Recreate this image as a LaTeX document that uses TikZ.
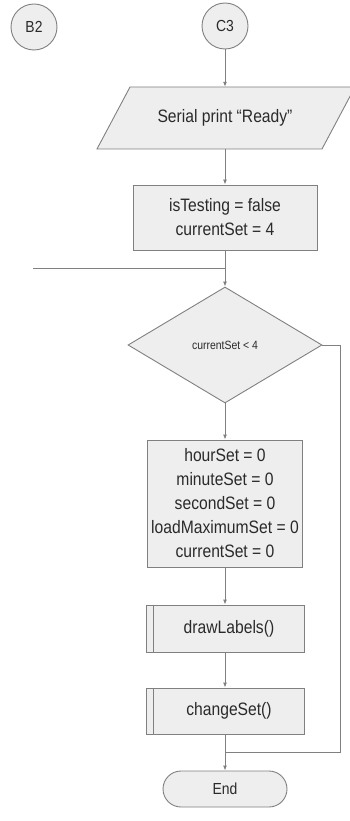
\documentclass[tikz,border=0pt]{standalone}
\usepackage{fontspec}
\setmainfont{Liberation Sans}[FakeStretch=0.87]
\usetikzlibrary{shapes.geometric,shapes.misc,arrows.meta}
\definecolor{strk}{HTML}{808080}
\definecolor{fillc}{HTML}{EEEEEE}
\definecolor{txt}{HTML}{2A2A2A}
\tikzset{
  x=1pt,y=1pt,
  base/.style={draw=strk,line width=0.9pt,fill=fillc,text=txt,inner sep=2pt,align=center},
  procbox/.style={base,rectangle},
  conn/.style={circle,base,minimum size=46pt,font=\fontsize{16}{18}\selectfont},
  dec/.style={diamond,base,inner sep=0pt,minimum width=194pt,minimum height=116pt,font=\fontsize{12}{14}\selectfont},
  term/.style={rounded rectangle,base,minimum width=128pt,minimum height=36pt,font=\fontsize{16}{18}\selectfont},
  btxt/.style={font=\fontsize{18}{24}\selectfont},
  flow/.style={draw=strk,line width=0.9pt,-{Latex[length=5pt,width=4pt]}},
  plain/.style={draw=strk,line width=0.9pt}
}
\begin{document}
\begin{tikzpicture}
\useasboundingbox (0,0) rectangle (350,-821);
\clip (0,0) rectangle (350,-821);
\node[conn] (b2) at (34,-27) {B2};
\node[conn] (c3) at (225,-26) {C3};
% parallelogram (text node + outline)
\node[minimum width=190pt,minimum height=62pt,inner sep=0pt] (par) at (225,-118) {};
\path[base] (130,-87) -- (355,-87) -- (322,-149) -- (97,-149) -- cycle;
\node[text=txt,btxt] at (par.center) {Serial print “Ready”};
\node[procbox,btxt,minimum width=184pt,minimum height=65pt] (init) at (225,-217.5) {isTesting = false\\currentSet = 4};
\coordinate (j1) at (225,-268);
\coordinate (lin) at (33,-268);
\node[dec] (cond) at (225,-345) {currentSet < 4};
\node[procbox,btxt,minimum width=155pt,minimum height=127pt] (reset) at (225,-503.5) {hourSet = 0\\minuteSet = 0\\secondSet = 0\\loadMaximumSet = 0\\currentSet = 0};
\node[procbox,btxt,minimum width=158pt,minimum height=47pt] (draw) at (225,-628.5) {\hspace*{8pt}drawLabels()};
\draw[plain] ([xshift=8pt]draw.north west) -- ([xshift=8pt]draw.south west);
\node[procbox,btxt,minimum width=158pt,minimum height=46pt] (chg) at (225,-711) {\hspace*{8pt}changeSet()};
\draw[plain] ([xshift=8pt]chg.north west) -- ([xshift=8pt]chg.south west);
\coordinate (j2) at (225,-752);
\node[term] (end) at (225,-789) {End};
% connectors
\draw[flow] (c3) -- (par);
\draw[flow] (par.south) -- (init);
\draw[flow] (init) -- (cond);
\draw[plain] (lin) -- (j1);
\draw[flow] (cond) -- (reset);
\draw[flow] (reset) -- (draw);
\draw[flow] (draw) -- (chg);
\draw[plain] (chg) -- (j2);
\draw[plain] (cond.east) -- (340,-345) -- (340,-752) -- (j2);
\draw[flow] (j2) -- (end);
\end{tikzpicture}
\end{document}
